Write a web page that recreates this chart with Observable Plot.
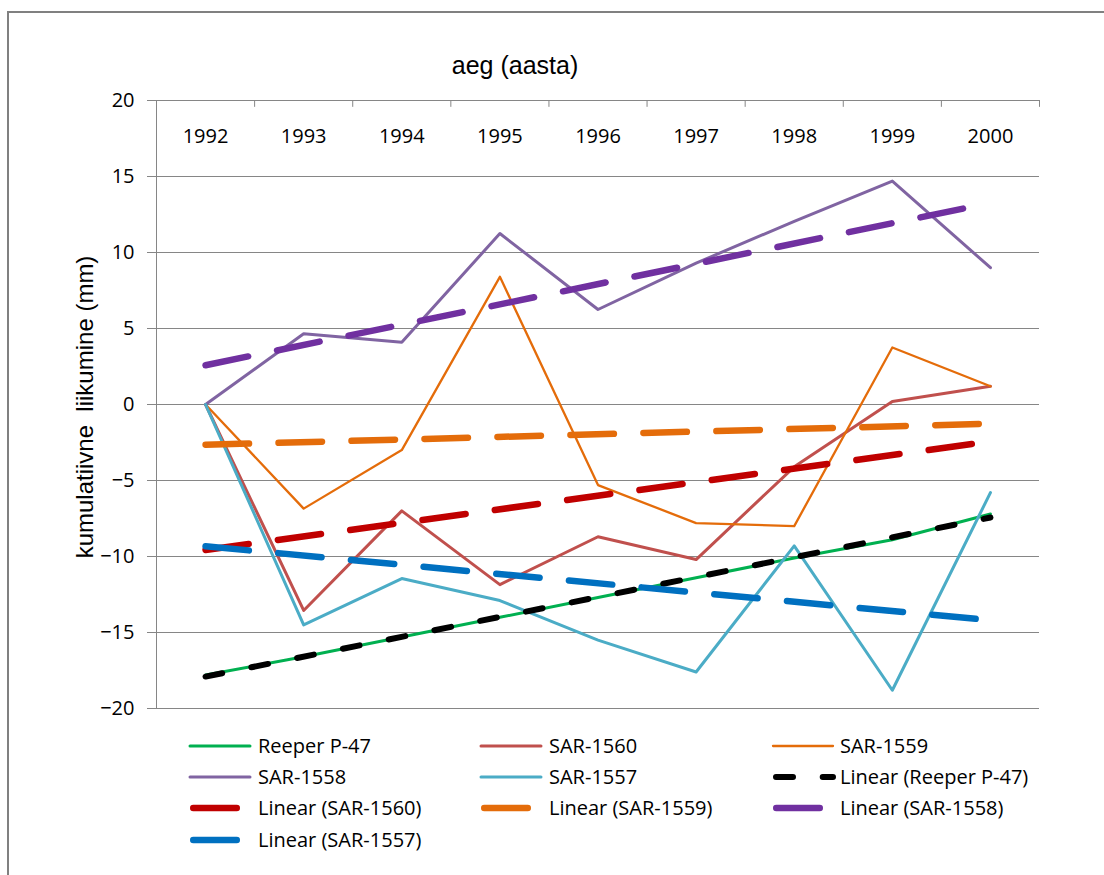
<!DOCTYPE html>
<html><head><meta charset="utf-8">
<script src="https://cdn.jsdelivr.net/npm/d3@7"></script>
<script src="https://cdn.jsdelivr.net/npm/@observablehq/plot@0.6"></script>
<style>
html,body{margin:0;padding:0;background:#fff;overflow:hidden}
#page{position:relative;width:1104px;height:875px;overflow:hidden;font-family:"Open Sans",sans-serif;color:#000}
#frame{position:absolute;left:7px;top:11px;width:1200px;height:1000px;border:2px solid #808080;box-sizing:border-box}
#chart{position:absolute;left:0;top:0}
#title{position:absolute;left:365px;width:300px;top:50px;line-height:30px;text-align:center;font-family:"Liberation Sans",Arial,sans-serif;font-size:25px;white-space:nowrap}
#ylabel{position:absolute;left:85px;top:407px;transform:translate(-50%,-50%) rotate(-90deg);font-family:"Liberation Sans",Arial,sans-serif;font-size:24px;white-space:pre;line-height:28px}
.leg{position:absolute;height:24px}
.leg svg{position:absolute;left:0;top:6px;overflow:visible}
.leg span{position:absolute;top:0;line-height:24px;font-size:20px;white-space:nowrap}
</style>
</head><body>
<div id="page">
  <div id="frame"></div>
  <div id="chart"></div>
  <div id="title">aeg (aasta)</div>
  <div id="ylabel">kumulatiivne  liikumine (mm)</div>
  <div id="legend"></div>
</div>
<script>
// ---- data ----
const years = [1992, 1993, 1994, 1995, 1996, 1997, 1998, 1999, 2000];
const seriesNames = ["Reeper P-47", "SAR-1560", "SAR-1559", "SAR-1558", "SAR-1557"];
const reeperP47 = [-17.8, -16.6, -15.3, -14.0, -12.7, -11.4, -10.1, -8.9, -7.2];
const sar1560 = [0, -13.55, -7.0, -11.85, -8.7, -10.2, -4.1, 0.2, 1.2];
const sar1559 = [0, -6.85, -3.0, 8.4, -5.3, -7.8, -8.0, 3.75, 1.2];
const sar1558 = [0, 4.65, 4.1, 11.25, 6.25, 9.3, 12.05, 14.7, 9.0];
const sar1557 = [0, -14.5, -11.45, -12.9, -15.5, -17.6, -9.3, -18.8, -5.8];
const yTicks = [-20, -15, -10, -5, 0, 5, 10, 15, 20];
const lineColors = ["#00b050", "#c0504d", "#e46c0a", "#8064a2", "#4bacc6"];
const trendColors = ["#000000", "#c00000", "#e46c0a", "#7030a0", "#0070c0"];

const seriesValues = [reeperP47, sar1560, sar1559, sar1558, sar1557];
const table = seriesNames.flatMap((name, s) =>
  years.map((year, i) => ({series: name, year, value: seriesValues[s][i]})));
const boundaries = years.map(y => y + 0.5);

const lineWidths = [3, 3, 2.3, 3, 3];
const trendDash = (s) => s === 0 ? "17 29.7" : "43.5 29.5";
const trendWidth = (s) => s === 0 ? 6 : 6.5;

const marks = [
  Plot.gridY(yTicks, {stroke: "#868686", strokeOpacity: 1, strokeWidth: 1}),
  Plot.ruleX([years[0] - 0.5], {stroke: "#868686", strokeWidth: 1}),
  Plot.ruleX(boundaries, {y1: 20, y2: 19.55, stroke: "#868686", strokeWidth: 1}),
  Plot.axisY({ticks: yTicks, tickSize: 9, tickPadding: 13, stroke: "#868686", fill: "#000", fontSize: 20, label: null}),
  Plot.text(years, {x: d => d, text: d => String(d), frameAnchor: "top", dy: 28, fontSize: 20, fill: "#000"})
];
seriesNames.forEach((name, s) => {
  marks.push(Plot.line(table.filter(d => d.series === name), {
    x: "year", y: "value", stroke: lineColors[s], strokeWidth: lineWidths[s],
    strokeLinejoin: "round", strokeLinecap: "round"
  }));
});
seriesNames.forEach((name, s) => {
  marks.push(Plot.linearRegressionY(table.filter(d => d.series === name), {
    x: "year", y: "value", ci: 0, stroke: trendColors[s], strokeWidth: trendWidth(s),
    strokeDasharray: trendDash(s), strokeLinecap: "round"
  }));
});

const chart = Plot.plot({
  width: 1104,
  height: 720,
  marginLeft: 156,
  marginRight: 65,
  marginTop: 100,
  marginBottom: 12,
  style: {fontFamily: "'Open Sans', sans-serif", fontSize: "20px", background: "transparent", color: "#000", overflow: "visible"},
  x: {type: "linear", domain: [years[0] - 0.5, years[years.length - 1] + 0.5], axis: null},
  y: {domain: [-20, 20], axis: null},
  marks
});
document.getElementById("chart").appendChild(chart);

// ---- legend ----
const legendItems = [
  ...seriesNames.map((name, s) => ({label: name, color: lineColors[s], width: lineWidths[s], dash: null})),
  ...seriesNames.map((name, s) => ({label: "Linear (" + name + ")", color: trendColors[s], width: trendWidth(s), dash: trendDash(s), black: s === 0}))
];
const colLine = [190, 481, 773];
const colText = [258, 549, 840];
const rowY = [746, 777, 808, 840];
const legend = document.getElementById("legend");
legendItems.forEach((item, i) => {
  const col = i % 3, row = Math.floor(i / 3);
  const div = document.createElement("div");
  div.className = "leg";
  div.style.left = "0px";
  div.style.top = (rowY[row] - 12) + "px";
  const ns = "http://www.w3.org/2000/svg";
  const svg = document.createElementNS(ns, "svg");
  svg.setAttribute("width", 80);
  svg.setAttribute("height", 12);
  svg.style.left = (colLine[col] - 3) + "px";
  const ln = document.createElementNS(ns, "line");
  const sw = item.width;
  const x1 = item.dash ? sw / 2 + 3 - 3 + 3 : 3 + 0;
  const x2 = item.dash ? (item.black ? 63 : 55) : 63;
  ln.setAttribute("x1", item.dash ? 3 + sw / 2 : 3);
  ln.setAttribute("x2", x2);
  ln.setAttribute("y1", 6);
  ln.setAttribute("y2", 6);
  ln.setAttribute("stroke", item.color);
  ln.setAttribute("stroke-width", sw);
  ln.setAttribute("stroke-linecap", "round");
  if (item.dash) ln.setAttribute("stroke-dasharray", item.dash);
  svg.appendChild(ln);
  div.appendChild(svg);
  const span = document.createElement("span");
  span.textContent = item.label;
  span.style.left = colText[col] + "px";
  div.appendChild(span);
  legend.appendChild(div);
});
</script>
</body></html>
